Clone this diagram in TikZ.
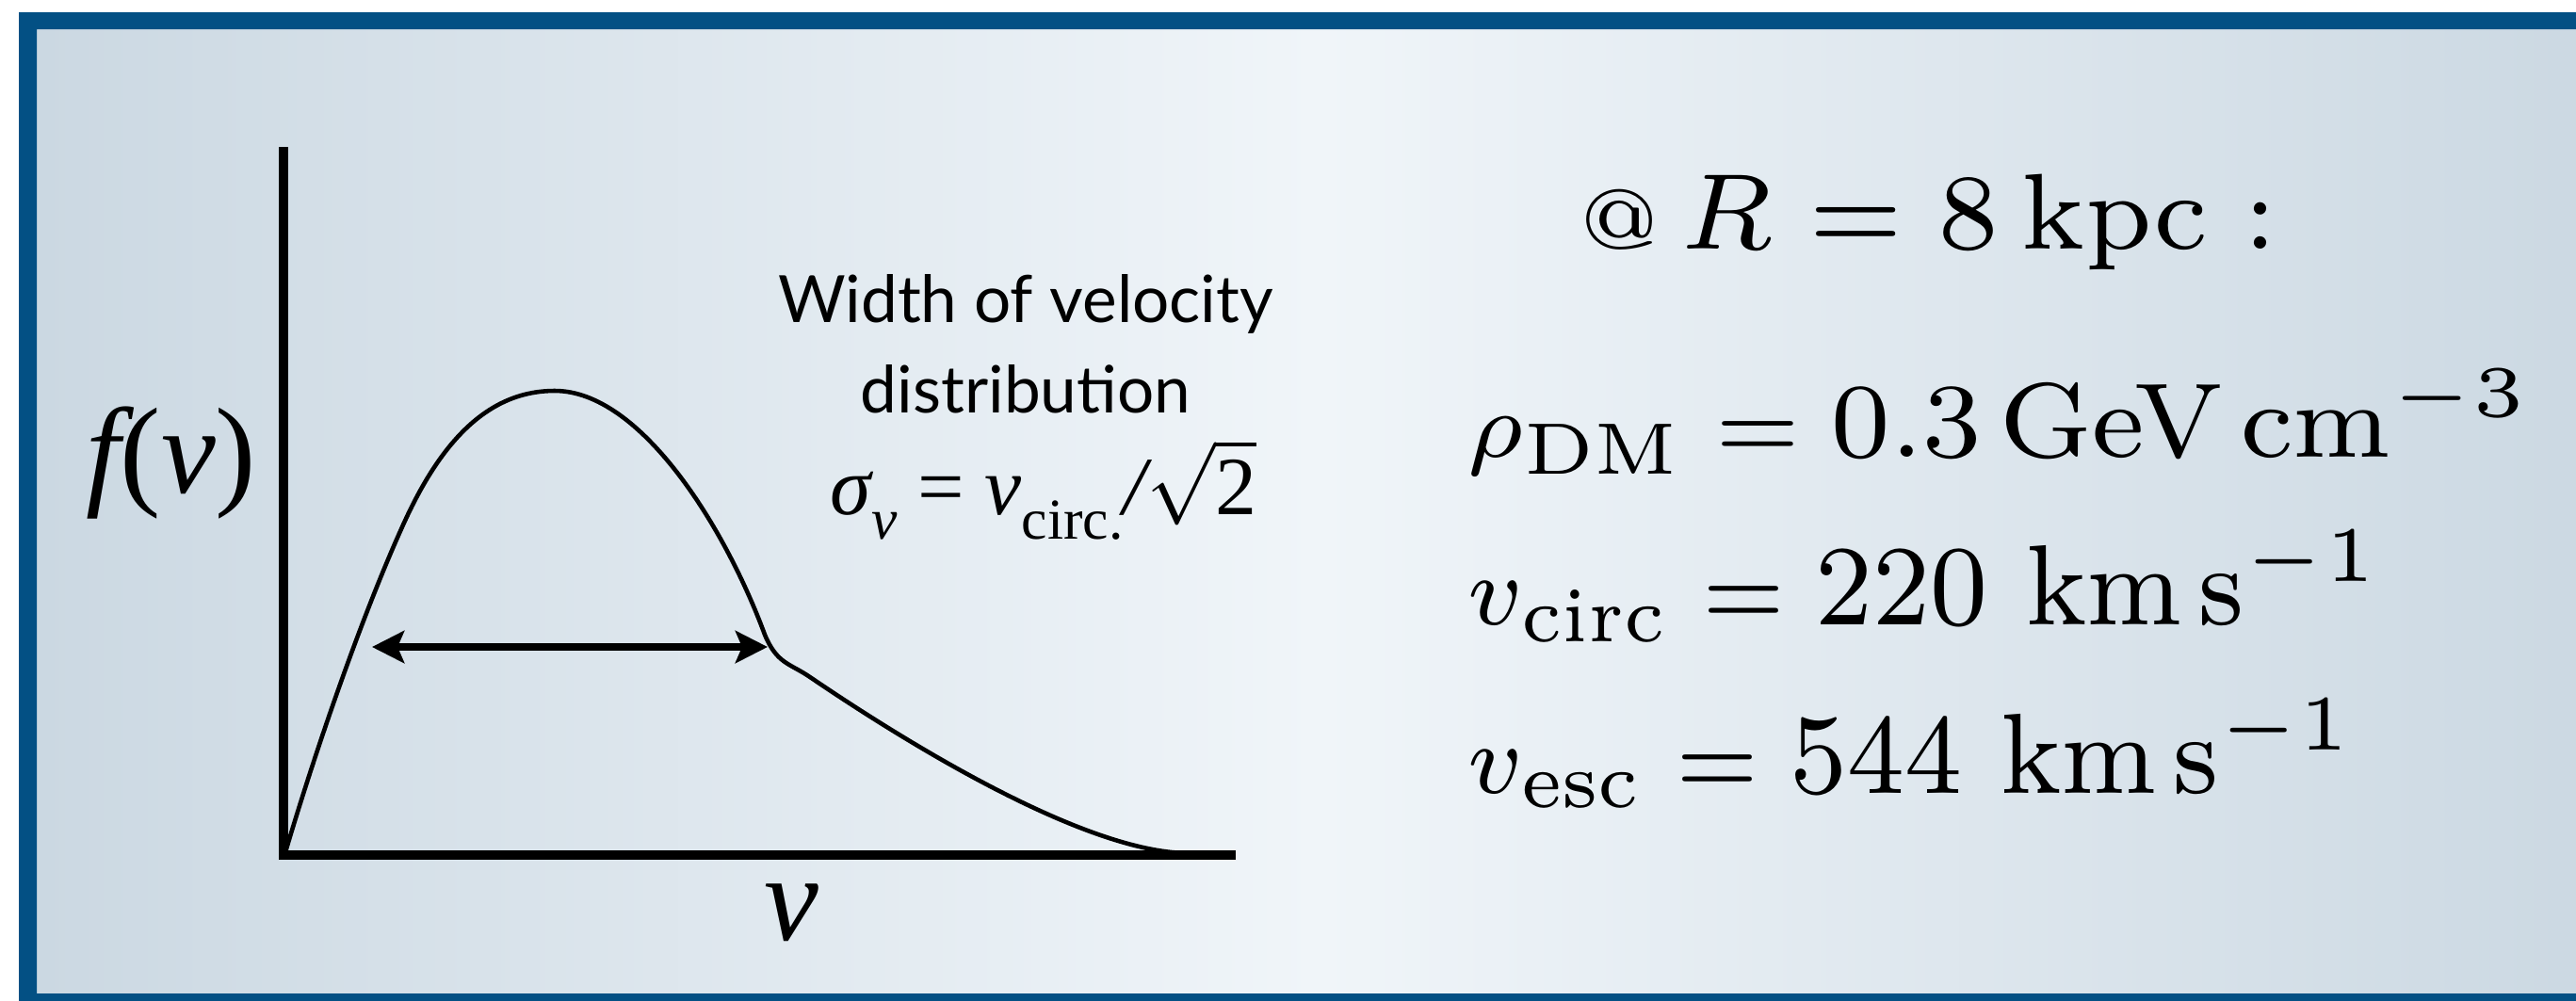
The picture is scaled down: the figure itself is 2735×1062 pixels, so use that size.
\RequirePackage{fix-cm}
\documentclass[tikz,border=0pt]{standalone}
\usepackage{fontspec}
\newfontfamily\avfont{Lato}
\newfontfamily\tmfont{Liberation Serif}
\usetikzlibrary{arrows.meta}
\DeclareMathSizes{7}{7}{5.5}{5}

\definecolor{frameblue}{RGB}{3,80,132}
\definecolor{bgedge}{RGB}{203,216,226}
\definecolor{bgmid}{RGB}{240,245,249}

\newcommand{\unittxt}[1]{\hbox{\fontsize{8pt}{9pt}\selectfont #1}}

\tikzset{
  axis line/.style={line width=3.1pt},
  fcurve/.style={line width=1.3pt},
  widtharrow/.style={line width=2.5pt,{Stealth[length=9.7pt,width=9.7pt,inset=2pt]}-{Stealth[length=9.7pt,width=9.7pt,inset=2pt]}},
  eqline/.style={anchor=base west,inner sep=0pt,font=\fontsize{7pt}{8pt}\selectfont}
}

\begin{document}
\begin{tikzpicture}[x=0.01cm,y=-0.01cm]
\useasboundingbox (0,0) rectangle (2735,1062);
\clip (0,0) rectangle (2735,1062);
% background and frame
\fill[white] (0,0) rectangle (2735,1062);
\shade[left color=bgedge,right color=bgedge,middle color=bgmid] (39,31) rectangle (2760,1055);
\fill[frameblue,even odd rule] (20,13) rectangle (2780,1090) (39,31) rectangle (2760,1055);

% axes
\coordinate (origin) at (301,908);
\coordinate (ytop) at (301,156);
\coordinate (xend) at (1312,908);
\draw[axis line] (ytop) -- (origin) -- (xend);

% distribution
\draw[fcurve] (303,905) .. controls (340,780) and (390,640) .. (430,553)
  .. controls (470,466) and (520,415) .. (589,415)
  .. controls (680,415) and (770,560) .. (812,674)
  .. controls (825,705) and (838,704) .. (860,719)
  .. controls (960,787) and (1150,905) .. (1261,906);

\coordinate (wl) at (395,687);
\coordinate (wr) at (815,687);
\draw[widtharrow] (wl) -- (wr);

\node[anchor=base east,inner sep=0pt,font=\fontsize{37pt}{42pt}\tmfont] (flabel) at (273,523) {\itshape f\upshape(\itshape v\upshape)};
\node[anchor=base,inner sep=0pt,font=\fontsize{37pt}{42pt}\tmfont\itshape] (vlabel) at (840,998) {v};

\node[anchor=base,inner sep=0pt,align=center,font=\fontsize{19.7pt}{27.3pt}\avfont] (widthlabel) at (1089,438) {Width of velocity\\distribution};
\node[anchor=base,inner sep=0pt,font=\fontsize{25pt}{28pt}\tmfont] (sigmalabel) at (1108,546)
  {\itshape σ\raisebox{-0.3em}{\fontsize{17.5pt}{20pt}\selectfont v}\upshape\ =\ \itshape v\upshape\raisebox{-0.3em}{\fontsize{17.5pt}{20pt}\selectfont circ.}\itshape/\upshape$\sqrt{\hbox{\tmfont 2}}$};

% local halo parameters
\node[eqline,scale=4.65] (rsun) at (1674,264) {$\mbox{\fontsize{5.5pt}{6pt}\selectfont @}\,R = 8\,\mathrm{kpc}:$};
\node[eqline,xscale=4.17,yscale=4.0] (rhodm) at (1555,485) {$\rho_{\mathrm{DM}} = \unittxt{0.3\,GeV\,cm}^{-3}$};
\node[eqline,xscale=4.08,yscale=4.31] (vcirc) at (1555,663) {$v_{\mathrm{circ}} = \unittxt{220 km\kern1.2pt s}^{-1}$};
\node[eqline,xscale=4.08,yscale=4.31] (vesc) at (1555,842) {$v_{\mathrm{esc}} = \unittxt{544 km\kern1.2pt s}^{-1}$};
\end{tikzpicture}
\end{document}
